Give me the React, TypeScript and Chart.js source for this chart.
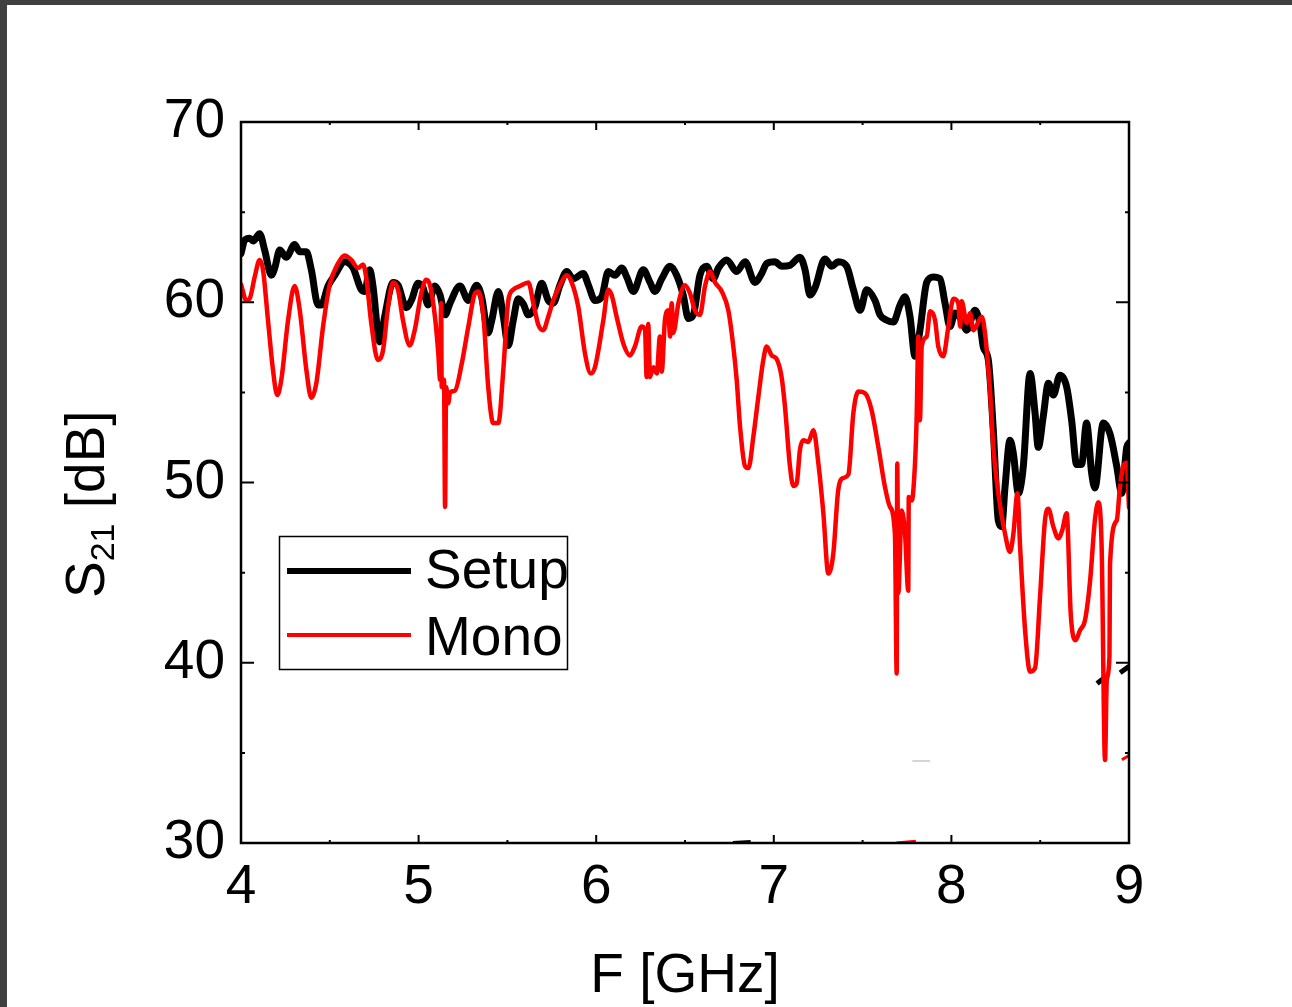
import React, { useEffect, useRef } from "react";
import { Chart, registerables } from "chart.js";

Chart.register(...registerables);

const FONT = "'Liberation Sans', Arial, sans-serif";

// Setup (black) trace: frequency [GHz] and S21 [dB]
const setupF = [
  4.0, 4.021, 4.049, 4.068, 4.105, 4.133, 4.171, 4.19, 4.218, 4.255, 4.302, 4.331, 4.368, 4.396, 4.434, 4.452,
  4.49, 4.528, 4.584, 4.631, 4.677, 4.697, 4.725, 4.743, 4.781, 4.809, 4.856, 4.884, 4.931, 4.959, 4.997, 5.025,
  5.053, 5.092, 5.121, 5.149, 5.177, 5.233, 5.28, 5.327, 5.355, 5.392, 5.412, 5.449, 5.477, 5.505, 5.533, 5.561,
  5.59, 5.618, 5.655, 5.693, 5.73, 5.758, 5.796, 5.834, 5.871, 5.927, 5.956, 5.993, 6.031, 6.068, 6.106, 6.144,
  6.172, 6.209, 6.265, 6.303, 6.331, 6.369, 6.416, 6.453, 6.49, 6.519, 6.547, 6.584, 6.622, 6.659, 6.688, 6.735,
  6.791, 6.838, 6.894, 6.932, 6.96, 7.007, 7.044, 7.091, 7.147, 7.176, 7.204, 7.232, 7.288, 7.326, 7.363, 7.41,
  7.448, 7.486, 7.523, 7.57, 7.598, 7.636, 7.673, 7.711, 7.739, 7.767, 7.795, 7.823, 7.861, 7.898, 7.936, 7.964,
  7.992, 8.02, 8.058, 8.086, 8.133, 8.161, 8.18, 8.208, 8.236, 8.264, 8.283, 8.302, 8.33, 8.349, 8.377, 8.405,
  8.443, 8.471, 8.489, 8.517, 8.546, 8.574, 8.611, 8.649, 8.677, 8.705, 8.733, 8.761, 8.79, 8.808, 8.855, 8.893,
  8.931, 8.959, 8.987, 9.0,
];
const setupS21 = [
  62.7, 63.45, 63.55, 63.4, 63.8, 62.9, 61.5, 61.9, 62.9, 62.5, 63.2, 62.8, 62.8, 61.8, 59.85, 59.85,
  60.9, 61.5, 62.25, 61.9, 60.7, 60.6, 61.8, 60.9, 57.8, 59.2, 61.1, 60.95, 59.7, 60.1, 61.05, 60.8,
  59.85, 60.9, 60.4, 59.3, 59.95, 60.9, 60.1, 60.95, 60.3, 58.3, 59.0, 60.6, 59.2, 57.6, 59.0, 60.2,
  59.9, 59.3, 59.75, 61.05, 60.1, 59.95, 60.95, 61.7, 61.3, 61.6, 60.95, 60.1, 60.3, 61.7, 61.5, 61.9,
  61.4, 60.6, 61.8, 61.1, 60.6, 61.3, 62.0, 61.5, 60.4, 59.1, 59.3, 61.5, 62.0, 61.3, 61.9, 62.35,
  61.7, 62.25, 61.1, 61.6, 62.15, 62.25, 62.0, 62.05, 62.5, 61.8, 60.4, 60.8, 62.4, 62.0, 62.25, 62.0,
  60.7, 59.55, 60.7, 60.1, 59.3, 59.0, 58.9, 59.85, 60.3, 59.2, 57.0, 58.45, 61.1, 61.4, 61.3, 59.95,
  58.65, 59.4, 59.0, 58.45, 59.55, 58.8, 57.5, 56.8, 52.9, 47.9, 47.55, 49.75, 52.35, 51.6, 49.4, 50.9,
  56.05, 53.85, 51.95, 53.65, 55.5, 54.85, 55.95, 55.3, 53.45, 51.0, 51.0, 53.3, 50.5, 49.7, 53.3, 52.7,
  50.9, 49.4, 51.95, 52.2,
];

// Mono (red) trace: frequency [GHz] and S21 [dB]
const monoF = [
  4.0, 4.03, 4.049, 4.077, 4.105, 4.124, 4.152, 4.18, 4.204, 4.227, 4.265, 4.302, 4.331, 4.368, 4.396, 4.424,
  4.462, 4.499, 4.546, 4.584, 4.621, 4.659, 4.687, 4.706, 4.734, 4.771, 4.8, 4.828, 4.856, 4.884, 4.912, 4.95,
  4.978, 5.015, 5.043, 5.064, 5.092, 5.111, 5.121, 5.127, 5.13, 5.143, 5.149, 5.155, 5.167, 5.177, 5.205, 5.243,
  5.28, 5.318, 5.337, 5.365, 5.392, 5.42, 5.449, 5.477, 5.505, 5.533, 5.571, 5.618, 5.646, 5.674, 5.702, 5.73,
  5.758, 5.796, 5.834, 5.862, 5.899, 5.937, 5.969, 5.993, 6.04, 6.068, 6.087, 6.115, 6.153, 6.19, 6.218, 6.256,
  6.275, 6.284, 6.293, 6.303, 6.322, 6.341, 6.359, 6.369, 6.387, 6.406, 6.416, 6.425, 6.434, 6.463, 6.5, 6.528,
  6.556, 6.584, 6.613, 6.641, 6.669, 6.707, 6.744, 6.772, 6.791, 6.81, 6.838, 6.857, 6.885, 6.913, 6.941, 6.96,
  6.988, 7.016, 7.044, 7.063, 7.091, 7.11, 7.129, 7.147, 7.166, 7.194, 7.223, 7.251, 7.279, 7.307, 7.335, 7.363,
  7.391, 7.42, 7.448, 7.476, 7.514, 7.551, 7.589, 7.626, 7.654, 7.682, 7.692, 7.695, 7.701, 7.72, 7.739, 7.757,
  7.76, 7.777, 7.795, 7.804, 7.814, 7.823, 7.833, 7.861, 7.88, 7.908, 7.926, 7.954, 7.983, 8.011, 8.039, 8.049,
  8.058, 8.086, 8.105, 8.124, 8.171, 8.189, 8.217, 8.236, 8.264, 8.302, 8.33, 8.349, 8.372, 8.387, 8.415, 8.443,
  8.471, 8.499, 8.527, 8.546, 8.574, 8.602, 8.624, 8.649, 8.672, 8.699, 8.724, 8.752, 8.781, 8.808, 8.827, 8.846,
  8.865, 8.875, 8.89, 8.893, 8.931, 8.949, 8.968, 8.987, 9.0,
];
const monoS21 = [
  61.0, 60.1, 60.2, 61.4, 62.35, 61.8, 59.0, 56.25, 54.85, 55.7, 59.0, 60.9, 59.55, 56.25, 54.7, 55.5,
  58.65, 60.95, 62.15, 62.6, 62.35, 61.9, 62.1, 61.3, 58.8, 56.8, 57.35, 59.75, 61.1, 60.7, 59.0, 57.6,
  58.45, 60.5, 61.25, 60.95, 59.2, 57.15, 55.7, 59.95, 55.3, 55.7, 48.65, 55.3, 54.4, 55.0, 55.1, 56.6,
  58.65, 60.5, 60.6, 59.2, 55.3, 53.3, 53.3, 56.25, 60.1, 60.7, 60.9, 61.1, 59.95, 58.75, 58.45, 59.2,
  60.1, 60.95, 61.5, 61.1, 59.75, 57.15, 56.05, 56.4, 59.0, 60.7, 60.4, 59.2, 57.7, 57.05, 57.55, 58.65,
  58.45, 55.85, 58.8, 55.85, 56.4, 56.05, 58.1, 56.15, 59.0, 59.55, 58.1, 59.95, 58.3, 59.95, 60.95, 60.5,
  59.55, 59.3, 60.9, 61.7, 61.1, 60.6, 59.55, 57.55, 55.7, 53.1, 50.9, 50.8, 52.55, 54.75, 56.8, 57.55,
  57.05, 56.85, 55.85, 54.2, 50.9, 49.8, 49.95, 51.8, 52.35, 52.25, 52.9, 51.05, 48.3, 44.95, 46.05, 49.6,
  50.25, 50.45, 53.85, 55.05, 54.95, 54.0, 51.95, 49.75, 48.65, 47.15, 39.4, 51.05, 43.85, 48.45, 47.15, 44.0,
  49.2, 49.0, 51.05, 53.45, 58.1, 53.45, 57.55, 58.1, 59.5, 59.0, 57.55, 57.0, 58.65, 60.2, 59.95, 58.65,
  60.05, 58.85, 59.4, 58.45, 59.2, 58.3, 55.15, 51.95, 49.4, 47.15, 46.15, 47.15, 49.4, 46.4, 41.8, 39.5,
  39.7, 43.65, 47.9, 48.55, 47.55, 46.9, 47.35, 48.3, 42.7, 41.25, 41.8, 42.35, 44.55, 47.9, 48.9, 46.4,
  34.6, 39.05, 40.35, 45.45, 47.9, 49.75, 50.9, 51.1, 48.6,
];

// Small stray fragments visible in the picture
const fragBlackAF = [8.82, 8.865];
const fragBlackAS = [38.85, 39.2];
const fragBlackBF = [8.95, 9.0];
const fragBlackBS = [39.45, 39.8];
const fragRedAF = [8.96, 9.0];
const fragRedAS = [34.62, 34.85];
const fragRedBF = [7.69, 7.8];
const fragRedBS = [30.0, 30.1];
const fragBlackCF = [6.77, 6.87];
const fragBlackCS = [30.0, 30.05];
const fragGrayF = [7.78, 7.88];
const fragGrayS = [34.55, 34.55];

const xTicks = [4, 5, 6, 7, 8, 9];
const yTicks = [30, 40, 50, 60, 70];
const xMinorTicks = [4.5, 5.5, 6.5, 7.5, 8.5];
const yMinorTicks = [35, 45, 55, 65];
const seriesNames = ["Setup", "Mono"];
const xTitle = "F [GHz]";
const yTitleMain = "S";
const yTitleSub = "21";
const yTitleRest = " [dB]";

const pts = (xs: number[], ys: number[]) => xs.map((x, i) => ({ x, y: ys[i] }));

const decorPlugin = {
  id: "decor",
  beforeDraw(chart: any) {
    const ctx = chart.ctx;
    ctx.save();
    ctx.fillStyle = "#ffffff";
    ctx.fillRect(0, 0, chart.width, chart.height);
    ctx.fillStyle = "#404040";
    ctx.fillRect(0, 0, chart.width, 5);
    ctx.fillRect(0, 0, 7, chart.height);
    ctx.restore();
  },
  afterDraw(chart: any) {
    const ctx = chart.ctx;
    const a = chart.chartArea;
    const xs = chart.scales.x;
    const ys = chart.scales.y;
    ctx.save();
    ctx.strokeStyle = "#000";
    ctx.lineWidth = 2.5;
    ctx.strokeRect(a.left, a.top, a.right - a.left, a.bottom - a.top);

    ctx.lineWidth = 2;
    ctx.beginPath();
    yTicks.forEach((v) => {
      const p = ys.getPixelForValue(v);
      ctx.moveTo(a.left, p); ctx.lineTo(a.left + 13, p);
      ctx.moveTo(a.right, p); ctx.lineTo(a.right - 13, p);
    });
    yMinorTicks.forEach((v) => {
      const p = ys.getPixelForValue(v);
      ctx.moveTo(a.left, p); ctx.lineTo(a.left + 4, p);
      ctx.moveTo(a.right, p); ctx.lineTo(a.right - 4, p);
    });
    xTicks.forEach((v) => {
      const p = xs.getPixelForValue(v);
      ctx.moveTo(p, a.bottom); ctx.lineTo(p, a.bottom - 8);
      ctx.moveTo(p, a.top); ctx.lineTo(p, a.top + 8);
    });
    xMinorTicks.forEach((v) => {
      const p = xs.getPixelForValue(v);
      ctx.moveTo(p, a.bottom); ctx.lineTo(p, a.bottom - 3);
      ctx.moveTo(p, a.top); ctx.lineTo(p, a.top + 3);
    });
    ctx.stroke();

    // axis titles
    ctx.fillStyle = "#000";
    ctx.font = `55px ${FONT}`;
    ctx.textAlign = "center";
    ctx.textBaseline = "alphabetic";
    ctx.fillText(xTitle, (a.left + a.right) / 2, 992);

    ctx.save();
    ctx.translate(104, 598);
    ctx.rotate(-Math.PI / 2);
    ctx.textAlign = "left";
    ctx.font = `55px ${FONT}`;
    ctx.fillText(yTitleMain, 0, 0);
    const sw = ctx.measureText(yTitleMain).width;
    ctx.font = `34px ${FONT}`;
    ctx.fillText(yTitleSub, sw, 10);
    const subw = ctx.measureText(yTitleSub).width;
    ctx.font = `55px ${FONT}`;
    ctx.fillText(yTitleRest, sw + subw, 0);
    ctx.restore();

    // legend
    const ds = chart.data.datasets;
    const setupDs = ds.find((d: any) => d.label === seriesNames[0]);
    const monoDs = ds.find((d: any) => d.label === seriesNames[1]);
    ctx.fillStyle = "#fff";
    ctx.fillRect(279, 536, 288, 133);
    ctx.strokeStyle = "#000";
    ctx.lineWidth = 1.5;
    ctx.strokeRect(279.5, 536.5, 288, 133);
    const rows = [
      { d: setupDs, y: 571, base: 588, lw: 6 },
      { d: monoDs, y: 635, base: 655, lw: 4 },
    ];
    rows.forEach((r) => {
      ctx.strokeStyle = r.d.borderColor;
      ctx.lineWidth = r.lw;
      ctx.lineCap = "butt";
      ctx.beginPath();
      ctx.moveTo(287, r.y);
      ctx.lineTo(411, r.y);
      ctx.stroke();
      ctx.fillStyle = "#000";
      ctx.font = `55px ${FONT}`;
      ctx.textAlign = "left";
      ctx.fillText(r.d.label, 425, r.base);
    });
    ctx.restore();
  },
};

export default function App() {
  const ref = useRef<HTMLCanvasElement | null>(null);
  useEffect(() => {
    document.body.style.margin = "0";
    const canvas = ref.current!;
    const frag = (xs: number[], ys: number[], color: string, w: number) => ({
      label: "",
      data: pts(xs, ys),
      borderColor: color,
      borderWidth: w,
      pointRadius: 0,
      fill: false,
      order: 5,
    });
    const chart = new Chart(canvas, {
      type: "line",
      data: {
        datasets: [
          {
            label: seriesNames[1],
            data: pts(monoF, monoS21),
            borderColor: "#ff0000",
            borderWidth: 4.5,
            pointRadius: 0,
            fill: false,
            cubicInterpolationMode: "monotone",
            borderJoinStyle: "round",
            borderCapStyle: "round",
            order: 0,
          },
          {
            label: seriesNames[0],
            data: pts(setupF, setupS21),
            borderColor: "#000000",
            borderWidth: 7,
            pointRadius: 0,
            fill: false,
            cubicInterpolationMode: "monotone",
            borderJoinStyle: "round",
            borderCapStyle: "round",
            order: 1,
          },
          frag(fragBlackAF, fragBlackAS, "#000000", 5),
          frag(fragBlackBF, fragBlackBS, "#000000", 5),
          frag(fragRedAF, fragRedAS, "#ff0000", 3),
          frag(fragRedBF, fragRedBS, "#ff0000", 3),
          frag(fragBlackCF, fragBlackCS, "#000000", 4),
          frag(fragGrayF, fragGrayS, "#c8c8c8", 1.5),
        ] as any,
      },
      options: {
        responsive: false,
        animation: false,
        devicePixelRatio: 1,
        layout: { padding: { top: 122, right: 163, left: 0, bottom: 0 } },
        plugins: { legend: { display: false }, tooltip: { enabled: false }, title: { display: false } },
        scales: {
          x: {
            type: "linear",
            min: 4,
            max: 9,
            afterFit: (s: any) => { s.height = 164; },
            afterBuildTicks: (s: any) => { s.ticks = xTicks.map((v) => ({ value: v })); },
            ticks: { font: { size: 55, family: FONT }, color: "#000", padding: 12, maxRotation: 0, autoSkip: false },
            grid: { display: false, drawTicks: false },
            border: { display: false },
          },
          y: {
            type: "linear",
            min: 30,
            max: 70,
            afterFit: (s: any) => { s.width = 241; },
            afterBuildTicks: (s: any) => { s.ticks = yTicks.map((v) => ({ value: v })); },
            ticks: { font: { size: 55, family: FONT }, color: "#000", padding: 16, autoSkip: false },
            grid: { display: false, drawTicks: false },
            border: { display: false },
          },
        },
      } as any,
      plugins: [decorPlugin],
    });
    return () => chart.destroy();
  }, []);
  return (
    <canvas
      ref={ref}
      width={1292}
      height={1007}
      style={{ display: "block", width: 1292, height: 1007 }}
    />
  );
}
